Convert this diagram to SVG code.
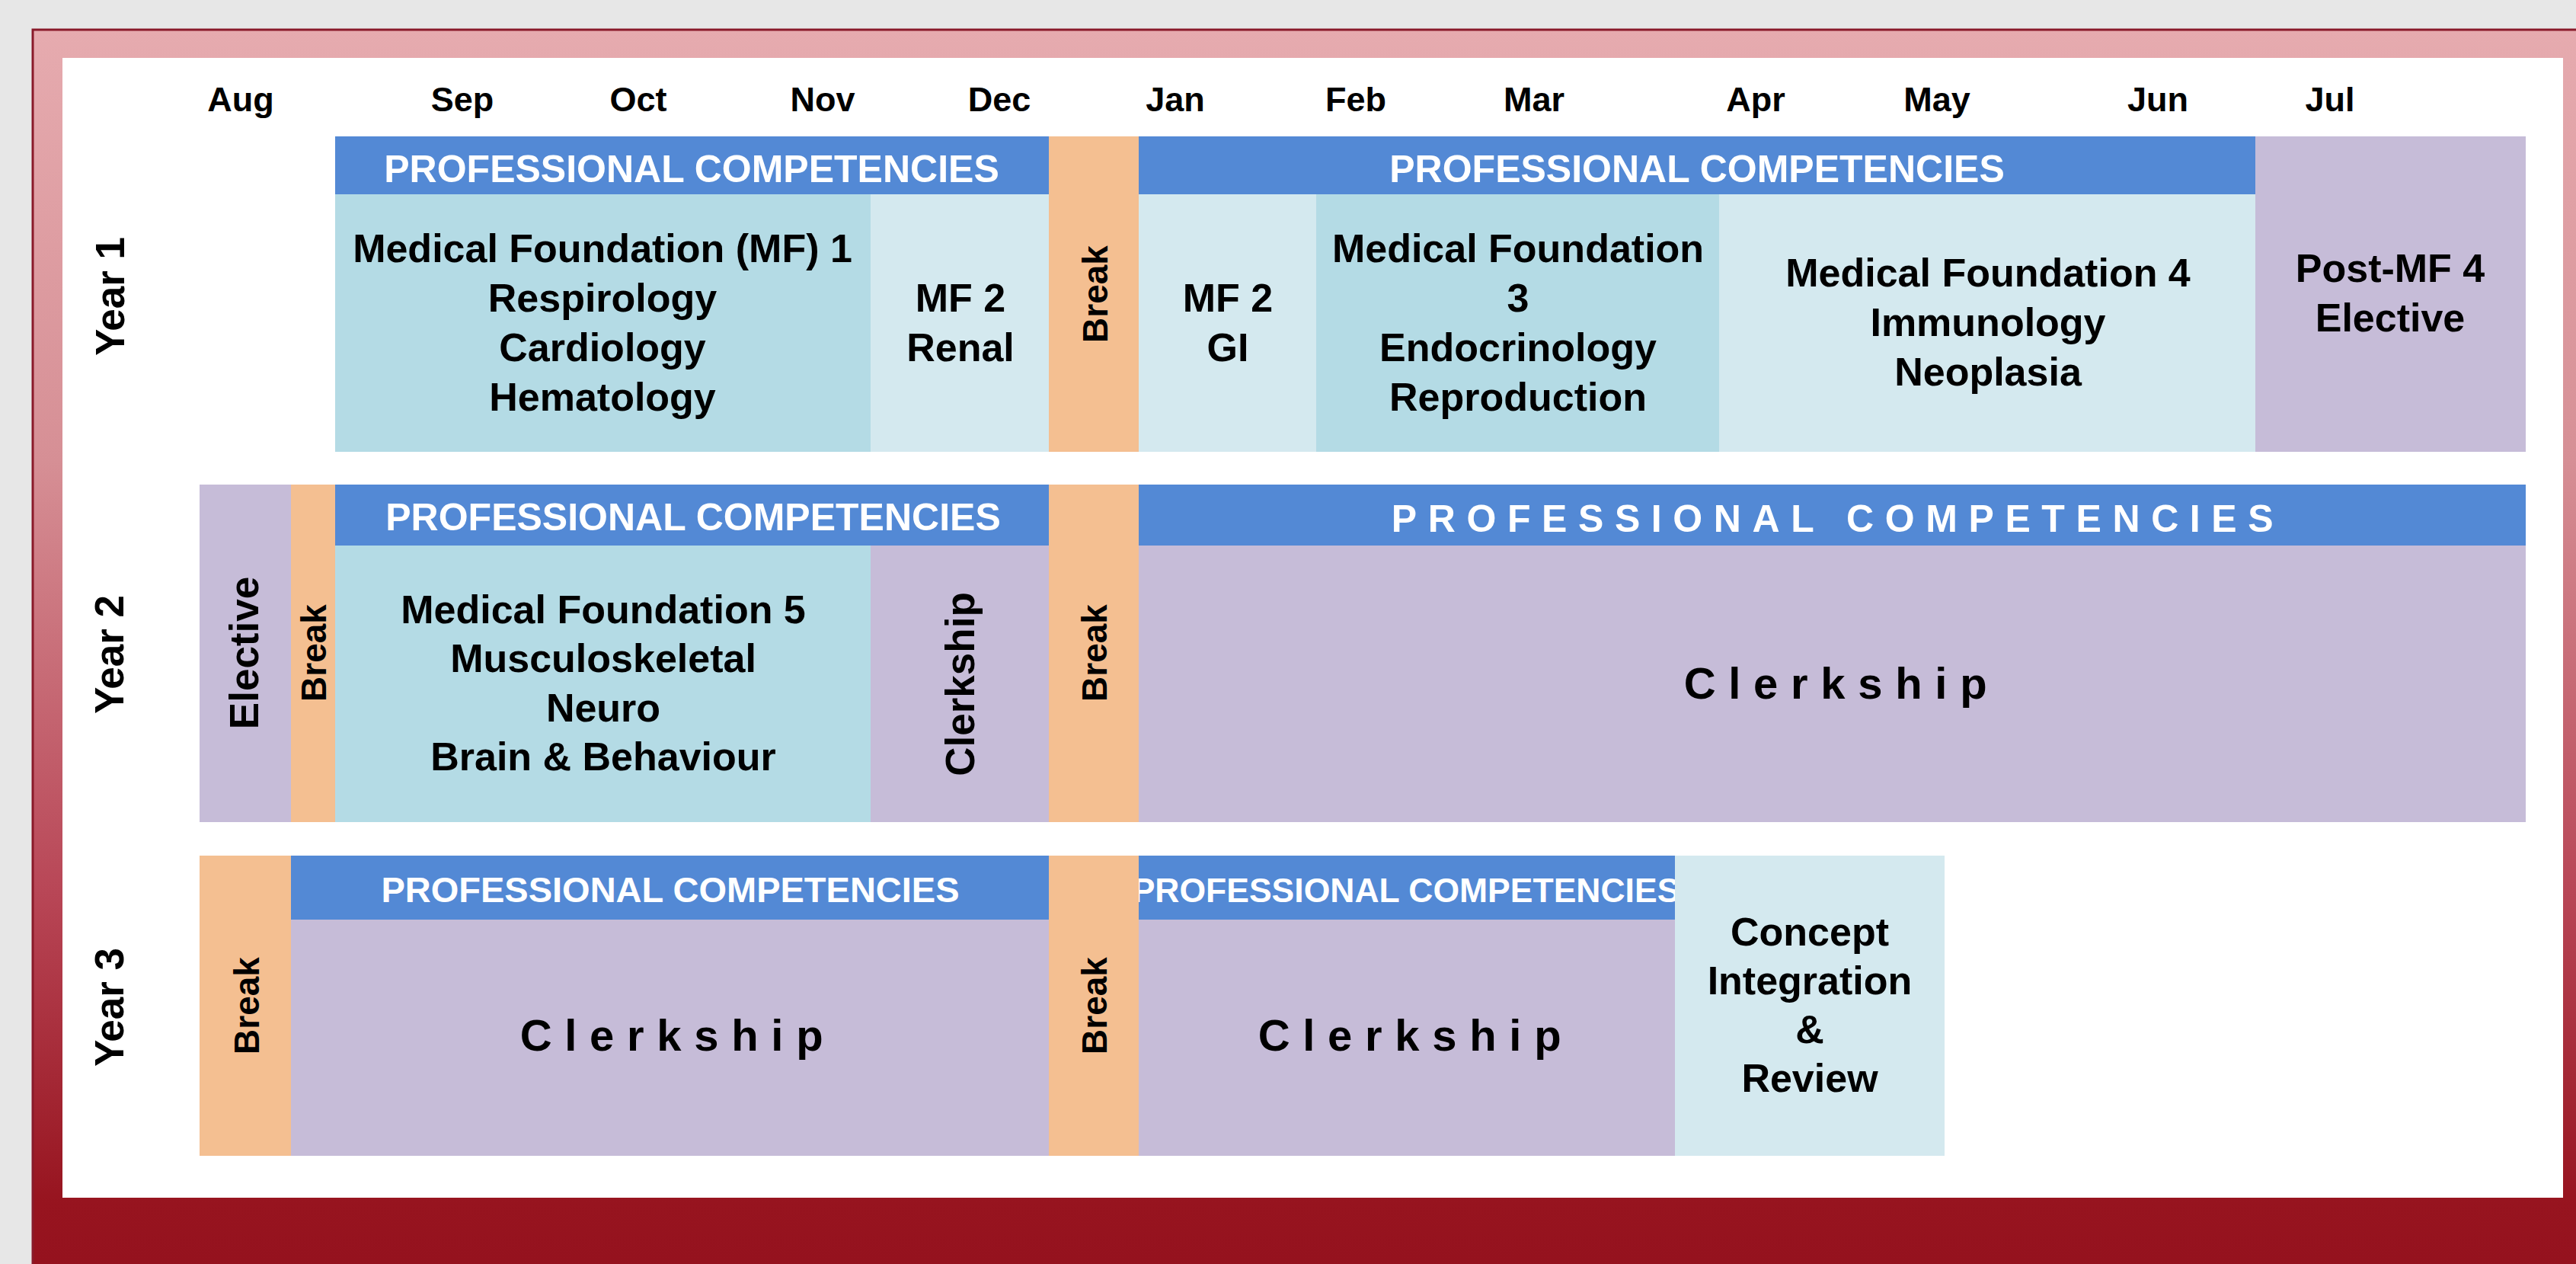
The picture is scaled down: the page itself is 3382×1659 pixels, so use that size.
<svg xmlns="http://www.w3.org/2000/svg" width="3382" height="1659" viewBox="0 0 3382 1659">
<defs>
<linearGradient id="frameGrad" gradientUnits="userSpaceOnUse" x1="0" y1="39" x2="0" y2="1659">
<stop offset="0" stop-color="#e6abaf"/>
<stop offset="0.35" stop-color="#d68f95"/>
<stop offset="0.7" stop-color="#b84656"/>
<stop offset="0.95" stop-color="#97141f"/>
<stop offset="1" stop-color="#95121e"/>
</linearGradient>
<clipPath id="clipPc"><rect x="1495" y="1123" width="704" height="84"/></clipPath>
<style>
.t{font-family:"Liberation Sans",Arial,sans-serif;font-weight:bold;text-anchor:middle;fill:#000}
.month{font-size:45px}
.hdr{font-size:50px;fill:#fff}
.body{font-size:52px}
.rot{font-size:53px}
.brk{font-size:46px}
.big{font-size:58px;letter-spacing:16.7px}
.blue{fill:#5389d5}
.teal{fill:#b4dbe5}
.pale{fill:#d4e9ef}
.purple{fill:#c6bcd8}
.orange{fill:#f4bf91}
</style>
</defs>
<rect x="0" y="0" width="3382" height="1659" fill="#e7e7e7"/>
<rect x="43" y="39" width="3400" height="1700" fill="url(#frameGrad)" stroke="#8a1a2a" stroke-width="3"/>
<rect x="82" y="76" width="3283" height="1496" fill="#ffffff"/>

<g id="months" class="t month">
<text x="316" y="146">Aug</text>
<text x="607" y="146">Sep</text>
<text x="838" y="146">Oct</text>
<text x="1080" y="146">Nov</text>
<text x="1312" y="146">Dec</text>
<text x="1543" y="146">Jan</text>
<text x="1780" y="146">Feb</text>
<text x="2014" y="146">Mar</text>
<text x="2305" y="146">Apr</text>
<text x="2543" y="146">May</text>
<text x="2833" y="146">Jun</text>
<text x="3059" y="146">Jul</text>
</g>

<g id="year-labels" class="t rot">
<text transform="translate(144,389) rotate(-90)" dy="0.36em">Year 1</text>
<text transform="translate(143,859) rotate(-90)" dy="0.36em">Year 2</text>
<text transform="translate(143,1322) rotate(-90)" dy="0.36em">Year 3</text>
</g>

<!-- Year 1 -->
<g id="y1-pc1"><rect class="blue" x="440" y="179" width="937" height="76"/><text class="t hdr" x="908" y="239">PROFESSIONAL COMPETENCIES</text></g>
<g id="y1-mf1"><rect class="teal" x="440" y="255" width="703" height="338"/>
<text class="t body" x="791" y="344">Medical Foundation (MF) 1</text>
<text class="t body" x="791" y="409">Respirology</text>
<text class="t body" x="791" y="474">Cardiology</text>
<text class="t body" x="791" y="539">Hematology</text></g>
<g id="y1-mf2r"><rect class="pale" x="1143" y="255" width="234" height="338"/>
<text class="t body" x="1261" y="409">MF 2</text>
<text class="t body" x="1261" y="474">Renal</text></g>
<g id="y1-break"><rect class="orange" x="1377" y="179" width="118" height="414"/>
<text class="t brk" transform="translate(1437,386) rotate(-90)" dy="0.36em">Break</text></g>
<g id="y1-pc2"><rect class="blue" x="1495" y="179" width="1466" height="76"/><text class="t hdr" x="2228" y="239">PROFESSIONAL COMPETENCIES</text></g>
<g id="y1-mf2gi"><rect class="pale" x="1495" y="255" width="233" height="338"/>
<text class="t body" x="1612" y="409">MF 2</text>
<text class="t body" x="1612" y="474">GI</text></g>
<g id="y1-mf3"><rect class="teal" x="1728" y="255" width="529" height="338"/>
<text class="t body" x="1993" y="344">Medical Foundation</text>
<text class="t body" x="1993" y="409">3</text>
<text class="t body" x="1993" y="474">Endocrinology</text>
<text class="t body" x="1993" y="539">Reproduction</text></g>
<g id="y1-mf4"><rect class="pale" x="2257" y="255" width="704" height="338"/>
<text class="t body" x="2610" y="376">Medical Foundation 4</text>
<text class="t body" x="2610" y="441">Immunology</text>
<text class="t body" x="2610" y="506">Neoplasia</text></g>
<g id="y1-post"><rect class="purple" x="2961" y="179" width="355" height="414"/>
<text class="t body" x="3138" y="370">Post-MF 4</text>
<text class="t body" x="3138" y="435">Elective</text></g>

<!-- Year 2 -->
<g id="y2-elective"><rect class="purple" x="262" y="636" width="120" height="443"/>
<text class="t rot" transform="translate(320,857) rotate(-90)" dy="0.36em">Elective</text></g>
<g id="y2-break1"><rect class="orange" x="382" y="636" width="58" height="443"/>
<text class="t brk" transform="translate(411,857) rotate(-90)" dy="0.36em">Break</text></g>
<g id="y2-pc1"><rect class="blue" x="440" y="636" width="937" height="80"/><text class="t hdr" x="910" y="696">PROFESSIONAL COMPETENCIES</text></g>
<g id="y2-mf5"><rect class="teal" x="440" y="716" width="703" height="363"/>
<text class="t body" x="792" y="818">Medical Foundation 5</text>
<text class="t body" x="792" y="882">Musculoskeletal</text>
<text class="t body" x="792" y="947">Neuro</text>
<text class="t body" x="792" y="1011">Brain &amp; Behaviour</text></g>
<g id="y2-clerk1"><rect class="purple" x="1143" y="716" width="234" height="363"/>
<text class="t rot" transform="translate(1260,898) rotate(-90)" dy="0.36em">Clerkship</text></g>
<g id="y2-break2"><rect class="orange" x="1377" y="636" width="118" height="443"/>
<text class="t brk" transform="translate(1436,857) rotate(-90)" dy="0.36em">Break</text></g>
<g id="y2-pc2"><rect class="blue" x="1495" y="636" width="1821" height="80"/><text class="t hdr" x="2413" y="698" style="letter-spacing:14.6px">PROFESSIONAL COMPETENCIES</text></g>
<g id="y2-clerk2"><rect class="purple" x="1495" y="716" width="1821" height="363"/>
<text class="t big" x="2418" y="917">Clerkship</text></g>

<!-- Year 3 -->
<g id="y3-break1"><rect class="orange" x="262" y="1123" width="120" height="394"/>
<text class="t brk" transform="translate(323,1320) rotate(-90)" dy="0.36em">Break</text></g>
<g id="y3-pc1"><rect class="blue" x="382" y="1123" width="995" height="84"/><text class="t hdr" x="880" y="1184" style="font-size:47px">PROFESSIONAL COMPETENCIES</text></g>
<g id="y3-clerk1"><rect class="purple" x="382" y="1207" width="995" height="310"/>
<text class="t big" x="890" y="1379">Clerkship</text></g>
<g id="y3-break2"><rect class="orange" x="1377" y="1123" width="118" height="394"/>
<text class="t brk" transform="translate(1436,1320) rotate(-90)" dy="0.36em">Break</text></g>
<g id="y3-pc2"><rect class="blue" x="1495" y="1123" width="704" height="84"/><text class="t hdr" x="1846" y="1184" style="font-size:44.5px" clip-path="url(#clipPc)">PROFESSIONAL COMPETENCIES</text></g>
<g id="y3-clerk2"><rect class="purple" x="1495" y="1207" width="704" height="310"/>
<text class="t big" x="1859" y="1379">Clerkship</text></g>
<g id="y3-concept"><rect class="pale" x="2199" y="1123" width="354" height="394"/>
<text class="t body" x="2376" y="1241">Concept</text>
<text class="t body" x="2376" y="1305">Integration</text>
<text class="t body" x="2376" y="1369">&amp;</text>
<text class="t body" x="2376" y="1433">Review</text></g>

<g id="connectors"/>
</svg>
